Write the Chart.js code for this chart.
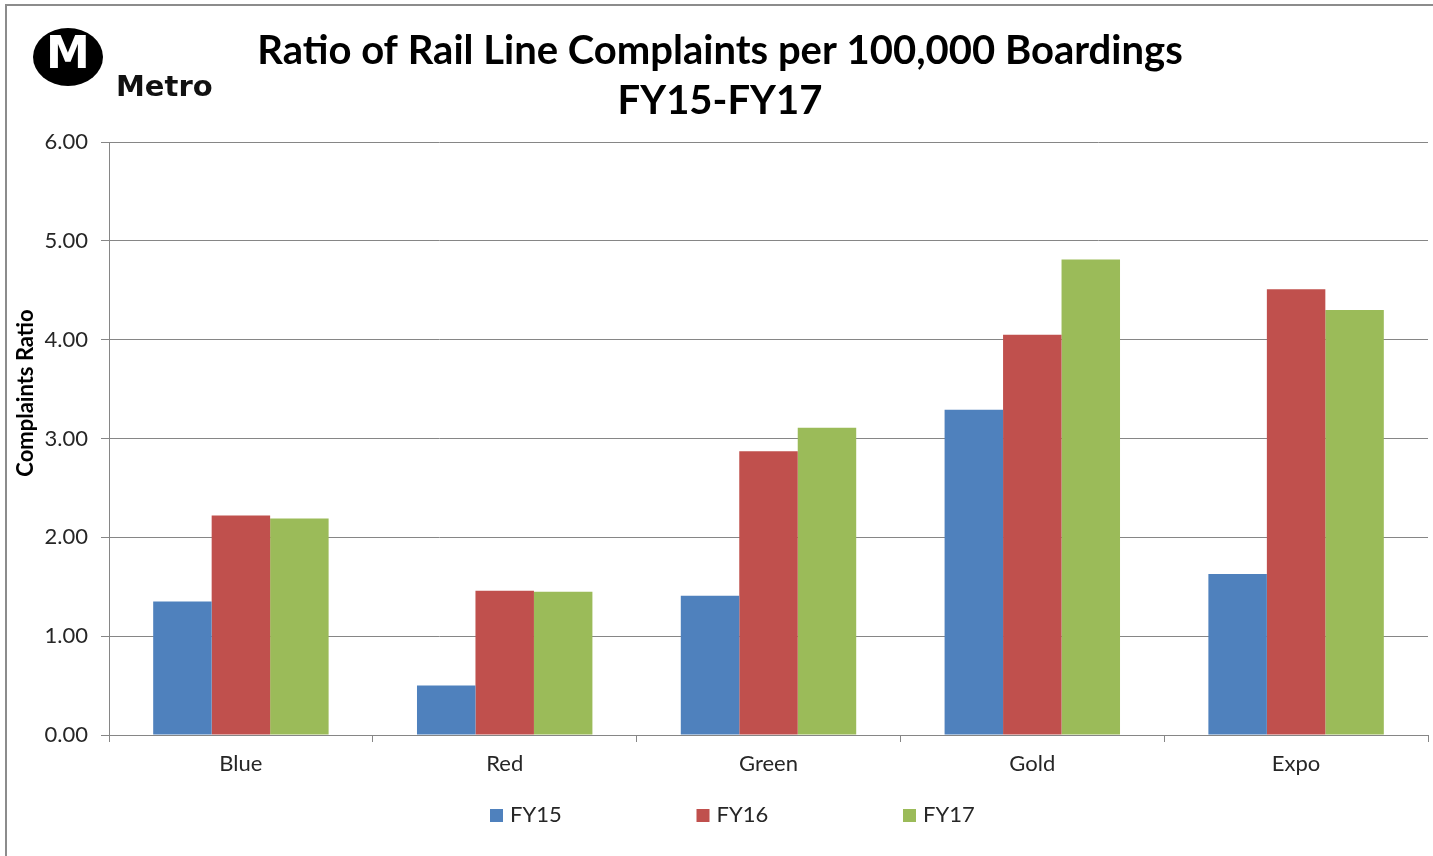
<!DOCTYPE html>
<html>
<head>
<meta charset="utf-8">
<script src="https://cdn.jsdelivr.net/npm/chart.js@4.4.1/dist/chart.umd.min.js"></script>
<style>
  html, body { margin: 0; padding: 0; background: #fff; }
  #wrap { position: relative; width: 1433px; height: 856px; overflow: hidden; }
  #frame { position: absolute; left: 5px; top: 4px; width: 1500px; height: 900px;
           border-top: 2px solid #8c8c8c; border-left: 2px solid #8c8c8c; pointer-events: none; }
  canvas { position: absolute; left: 0; top: 0; }
</style>
</head>
<body>
<div id="wrap">
  <canvas id="grafica" width="1433" height="856"></canvas>
  <div id="frame"></div>
</div>
<script>
// Datos
const categorias = ['Blue', 'Red', 'Green', 'Gold', 'Expo'];
const serieFY15 = [1.35, 0.50, 1.41, 3.29, 1.63];
const serieFY16 = [2.22, 1.46, 2.87, 4.05, 4.51];
const serieFY17 = [2.19, 1.45, 3.11, 4.81, 4.30];
const nombresSeries = ['FY15', 'FY16', 'FY17'];
const coloresSeries = ['#4F81BD', '#C0504D', '#9BBB59'];
const tituloLineas = ['Ratio of Rail Line Complaints per 100,000 Boardings', 'FY15-FY17'];
const tituloEjeY = 'Complaints Ratio';

const colorTexto = '#262626';
const colorRejilla = '#868686';

// Logo de Metro (arriba a la izquierda)
const logoMetro = {
    id: 'logoMetro',
    afterDraw(chart) {
        const ctx = chart.ctx;
        ctx.save();
        ctx.fillStyle = '#000';
        ctx.beginPath();
        ctx.ellipse(68, 57, 35, 29, 0, 0, Math.PI * 2);
        ctx.fill();
        ctx.fillStyle = '#fff';
        ctx.font = 'bold 44px "DejaVu Sans"';
        ctx.textAlign = 'center';
        ctx.textBaseline = 'middle';
        ctx.fillText('M', 68, 57);
        ctx.fillStyle = '#111';
        ctx.font = 'bold 29px "DejaVu Sans"';
        ctx.textAlign = 'left';
        ctx.textBaseline = 'alphabetic';
        ctx.fillText('Metro', 116, 96);
        ctx.restore();
    }
};

// Título del eje Y (centrado como en el original, no en el área del gráfico)
const tituloEje = {
    id: 'tituloEje',
    afterDraw(chart) {
        const ctx = chart.ctx;
        ctx.save();
        ctx.translate(26, 393);
        ctx.rotate(-Math.PI / 2);
        ctx.fillStyle = '#000';
        ctx.font = 'bold 22px Lato';
        ctx.textAlign = 'center';
        ctx.textBaseline = 'middle';
        ctx.fillText(tituloEjeY, 0, 0);
        ctx.restore();
    }
};

// Leyenda abajo con separación amplia
const leyenda = {
    id: 'leyenda',
    afterDraw(chart) {
        const ctx = chart.ctx;
        ctx.save();
        ctx.font = '22px Lato';
        ctx.textBaseline = 'middle';
        chart.data.datasets.forEach((ds, i) => {
            const x = 490 + i * 206.5;
            ctx.fillStyle = ds.backgroundColor;
            ctx.fillRect(x, 809, 13, 13);
            ctx.fillStyle = colorTexto;
            ctx.fillText(ds.label, x + 20, 815);
        });
        ctx.restore();
    }
};

const ctx = document.getElementById('grafica').getContext('2d');
new Chart(ctx, {
    type: 'bar',
    data: {
        labels: categorias,
        datasets: [
            { label: nombresSeries[0], data: serieFY15, backgroundColor: coloresSeries[0] },
            { label: nombresSeries[1], data: serieFY16, backgroundColor: coloresSeries[1] },
            { label: nombresSeries[2], data: serieFY17, backgroundColor: coloresSeries[2] }
        ]
    },
    options: {
        responsive: false,
        animation: false,
        devicePixelRatio: 1,
        layout: { padding: { left: 12, right: 5, top: 0, bottom: 71 } },
        datasets: { bar: { categoryPercentage: 0.665, barPercentage: 1.0 } },
        plugins: {
            legend: { display: false },
            tooltip: { enabled: false },
            title: {
                display: true,
                text: tituloLineas,
                color: '#000',
                font: { family: 'Lato', size: 40, weight: 'bold', lineHeight: 1.25 },
                padding: { top: 26, bottom: 16 }
            }
        },
        scales: {
            x: {
                grid: { display: true, drawOnChartArea: false, drawTicks: true, tickLength: 7, color: colorRejilla, offset: true },
                border: { display: true, color: colorRejilla },
                ticks: { color: colorTexto, font: { family: 'Lato', size: 22 }, padding: 9 },
                afterFit(scale) { scale.height = 50; }
            },
            y: {
                min: 0,
                max: 6,
                grid: { color: colorRejilla, tickLength: 8 },
                border: { display: true, color: colorRejilla },
                ticks: {
                    stepSize: 1,
                    color: colorTexto,
                    font: { family: 'Lato', size: 22 },
                    padding: 13,
                    callback: (v) => Number(v).toFixed(2)
                },
                afterFit(scale) { scale.width = 97; }
            }
        }
    },
    plugins: [logoMetro, tituloEje, leyenda]
});
</script>
</body>
</html>
